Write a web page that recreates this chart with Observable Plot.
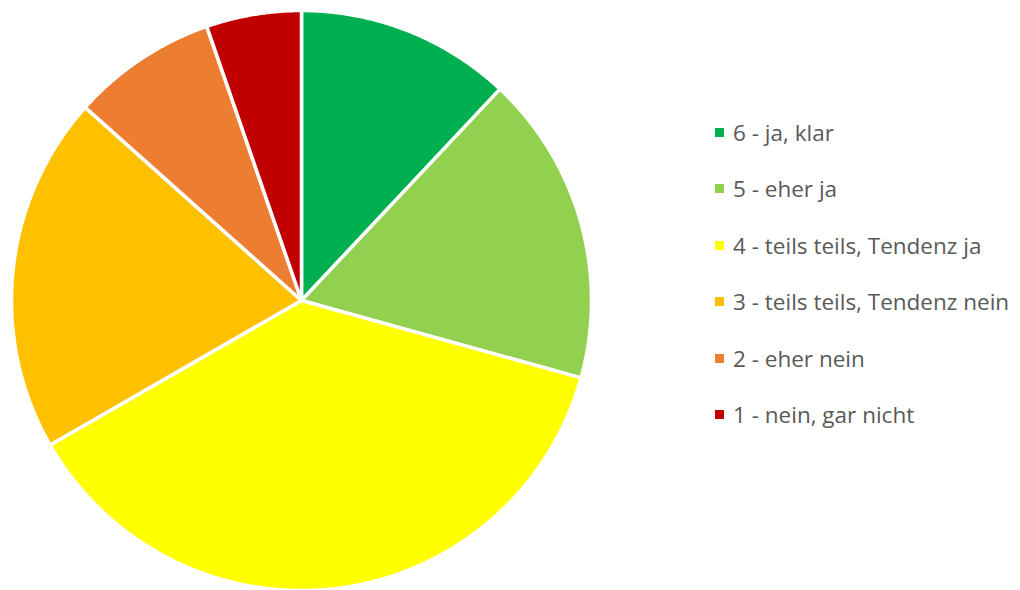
<!DOCTYPE html>
<html>
<head>
<meta charset="utf-8">
<script src="https://cdn.jsdelivr.net/npm/d3@7"></script>
<script src="https://cdn.jsdelivr.net/npm/@observablehq/plot@0.6"></script>
<style>
  html, body { margin: 0; padding: 0; background: #fff; }
  #wrap { position: relative; width: 1020px; height: 590px; overflow: hidden; }
  #chart { position: absolute; left: 0; top: 0; }
  #legend { position: absolute; left: 715px; top: 117px; font-family: "Open Sans", "Noto Sans", sans-serif; font-size: 22.5px; color: #595959; }
  .row { display: flex; align-items: center; height: 30px; margin-bottom: 26.6px; white-space: nowrap; }
  .sw { width: 9px; height: 9px; margin-right: 9px; flex: none; }
</style>
</head>
<body>
<div id="wrap"><div id="chart"></div><div id="legend"></div></div>
<script>
const categories = ["6 - ja, klar", "5 - eher ja", "4 - teils teils, Tendenz ja", "3 - teils teils, Tendenz nein", "2 - eher nein", "1 - nein, gar nicht"];
const values = [12.0, 17.3, 37.4, 19.9, 8.1, 5.3];
const colors = ["#00b050", "#92d050", "#ffff00", "#ffc000", "#ed7d31", "#c00000"];

const arcs = d3.pie().sort(null).value((d, i) => values[i])(categories);
const pts = [];
arcs.forEach((a, i) => {
  const cat = categories[i];
  pts.push({cat, x: 0, y: 0});
  const n = Math.max(2, Math.ceil((a.endAngle - a.startAngle) / 0.005));
  for (let k = 0; k <= n; k++) {
    const t = a.startAngle + (a.endAngle - a.startAngle) * k / n;
    pts.push({cat, x: Math.sin(t), y: Math.cos(t)});
  }
  pts.push({cat, x: 0, y: 0});
});

const chart = Plot.plot({
  width: 602,
  height: 590,
  marginLeft: 11,
  marginRight: 11,
  marginTop: 10,
  marginBottom: 0,
  x: {domain: [-1, 1], axis: null},
  y: {domain: [-1, 1], axis: null},
  color: {domain: categories, range: colors},
  marks: [
    Plot.line(pts, {x: "x", y: "y", z: "cat", fill: "cat", stroke: "white", strokeWidth: 3.5, strokeLinejoin: "miter", curve: "linear"})
  ]
});
document.getElementById("chart").appendChild(chart);

const legend = document.getElementById("legend");
categories.forEach((c, i) => {
  const row = document.createElement("div");
  row.className = "row";
  const sw = document.createElement("span");
  sw.className = "sw";
  sw.style.background = colors[i];
  const tx = document.createElement("span");
  tx.textContent = c;
  row.appendChild(sw);
  row.appendChild(tx);
  legend.appendChild(row);
});
</script>
</body>
</html>
